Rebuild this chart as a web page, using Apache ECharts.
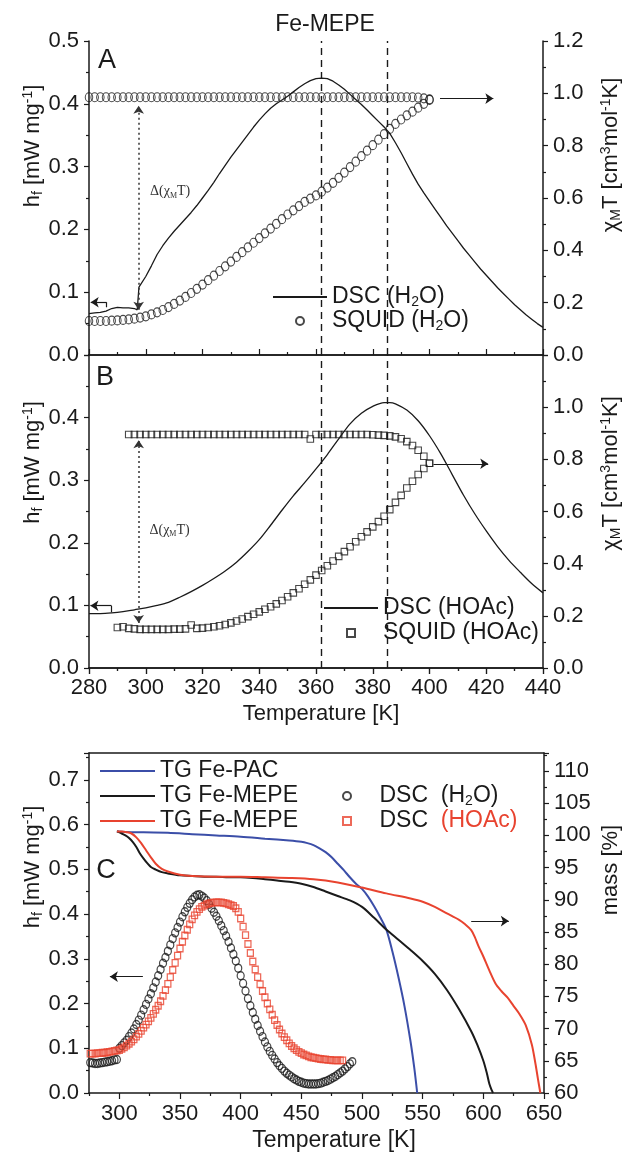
<!DOCTYPE html>
<html>
<head>
<meta charset="utf-8">
<script src="https://cdn.jsdelivr.net/npm/echarts@6/dist/echarts.min.js"></script>
<style>
  html, body { margin: 0; padding: 0; background: #fff; }
  #chart { width: 631px; height: 1153px; }
</style>
</head>
<body>
<div id="chart"></div>
<script>
// ---- data ----
// panel A: DSC (H2O) trace, left axis
const tempDscA = [280, 282, 284, 286, 288, 290, 292, 294, 296, 297, 297.6,
  300, 302, 304, 306, 308, 310, 312, 314, 316, 318, 320, 322, 324, 326, 328, 330, 332, 334, 336, 338,
  340, 342, 344, 346, 348, 350, 352, 354, 356, 358, 360, 362, 364, 366, 368, 370, 372, 374, 376, 378,
  380, 382, 384, 386, 388, 390, 392, 394, 396, 398, 400, 402, 404, 406, 408, 410, 412, 414, 416, 418,
  420, 422, 424, 426, 428, 430, 432, 434, 436, 438, 440];
const dscA = [0.066, 0.067, 0.068, 0.07, 0.074, 0.076, 0.075, 0.075, 0.074, 0.072, 0.108,
  0.125, 0.142, 0.16, 0.174, 0.186, 0.197, 0.207, 0.217, 0.227, 0.238, 0.25, 0.262, 0.275, 0.289, 0.302, 0.315, 0.327, 0.339, 0.351, 0.363,
  0.374, 0.384, 0.393, 0.4, 0.406, 0.412, 0.419, 0.426, 0.432, 0.437, 0.44, 0.441, 0.44, 0.436, 0.43, 0.423, 0.415, 0.407, 0.399, 0.39,
  0.381, 0.372, 0.363, 0.353, 0.338, 0.322, 0.305, 0.288, 0.272, 0.258, 0.245, 0.232, 0.219, 0.206, 0.194, 0.182, 0.17, 0.159, 0.148, 0.137,
  0.127, 0.117, 0.107, 0.098, 0.089, 0.08, 0.072, 0.064, 0.057, 0.05, 0.044];

// SQUID temperatures (A uses all, B uses slices)
const tempSquid = [280, 282, 284, 286, 288, 290, 292, 294, 296, 298, 300, 302, 304, 306, 308, 310, 312, 314, 316, 318,
  320, 322, 324, 326, 328, 330, 332, 334, 336, 338, 340, 342, 344, 346, 348, 350, 352, 354, 356, 358,
  360, 362, 364, 366, 368, 370, 372, 374, 376, 378, 380, 382, 384, 386, 388, 390, 392, 394, 396, 398, 400];
const squidAUp = [0.985, 0.985, 0.985, 0.985, 0.985, 0.985, 0.985, 0.985, 0.985, 0.985,
  0.985, 0.985, 0.985, 0.985, 0.985, 0.985, 0.985, 0.985, 0.985, 0.985,
  0.985, 0.985, 0.985, 0.985, 0.985, 0.985, 0.985, 0.985, 0.985, 0.985,
  0.985, 0.985, 0.985, 0.985, 0.985, 0.985, 0.985, 0.985, 0.985, 0.985,
  0.985, 0.985, 0.985, 0.985, 0.985, 0.985, 0.985, 0.985, 0.985, 0.985,
  0.985, 0.985, 0.985, 0.985, 0.985, 0.985, 0.985, 0.985, 0.984, 0.981, 0.977];
const squidALow = [0.13, 0.13, 0.13, 0.13, 0.131, 0.132, 0.134, 0.136, 0.139, 0.143,
  0.148, 0.155, 0.163, 0.172, 0.183, 0.195, 0.208, 0.222, 0.237, 0.253,
  0.269, 0.286, 0.303, 0.321, 0.339, 0.357, 0.375, 0.393, 0.411, 0.429,
  0.447, 0.465, 0.483, 0.501, 0.519, 0.537, 0.553, 0.569, 0.585, 0.598,
  0.61, 0.624, 0.64, 0.658, 0.677, 0.697, 0.718, 0.739, 0.76, 0.781,
  0.802, 0.823, 0.844, 0.864, 0.883, 0.9, 0.916, 0.93, 0.945, 0.96, 0.975];

// panel B: DSC (HOAc) trace, left axis
const tempDscB = [280, 284, 288, 292, 296, 300, 304, 308, 312, 316, 320, 324, 328, 332, 336, 340, 344, 348, 352, 356,
  360, 364, 368, 372, 376, 380, 384, 386, 388, 392, 396, 400, 404, 408, 412, 416, 420, 424, 428, 432, 436, 440];
const dscB = [0.087, 0.087, 0.088, 0.09, 0.093, 0.096, 0.1, 0.105, 0.113, 0.122, 0.132, 0.143, 0.155, 0.169, 0.186, 0.205, 0.228, 0.252, 0.275, 0.296,
  0.318, 0.341, 0.366, 0.39, 0.407, 0.418, 0.424, 0.424, 0.422, 0.412, 0.395, 0.371, 0.342, 0.309, 0.276, 0.246, 0.219, 0.194, 0.172, 0.153, 0.135, 0.12];
// SQUID (HOAc): upper branch 294..400, lower branch 290..400
const squidBUp = [0.895, 0.895, 0.895, 0.895, 0.895, 0.895, 0.895, 0.895, 0.895, 0.895,
  0.895, 0.895, 0.895, 0.895, 0.895, 0.895, 0.895, 0.895, 0.895, 0.895,
  0.895, 0.895, 0.895, 0.895, 0.895, 0.895, 0.895, 0.895, 0.895, 0.895,
  0.895, 0.895, 0.878, 0.895, 0.895, 0.895, 0.895, 0.895, 0.895, 0.895,
  0.895, 0.895, 0.895,
  0.894, 0.893, 0.892, 0.89, 0.886, 0.879, 0.868, 0.853, 0.835, 0.812, 0.785];
const squidBLow = [0.155, 0.158, 0.152, 0.15, 0.148, 0.148, 0.148, 0.148, 0.148, 0.148,
  0.149, 0.149, 0.15, 0.165, 0.152, 0.153, 0.155, 0.158, 0.162, 0.167,
  0.173, 0.18, 0.188, 0.197, 0.206, 0.215, 0.225, 0.235, 0.246, 0.259,
  0.273, 0.288, 0.304, 0.321, 0.338, 0.356, 0.374, 0.392, 0.41, 0.428,
  0.446, 0.465, 0.484, 0.503, 0.522, 0.541, 0.561, 0.582, 0.607, 0.635,
  0.662, 0.69, 0.716, 0.742, 0.765, 0.785];

// panel C: DSC curves (left axis)
const tempC = [276, 278, 280, 282, 284, 286, 288, 290, 292, 294,
  296, 298, 300, 302, 304, 306, 308, 310, 312, 314,
  316, 318, 320, 322, 324, 326, 328, 330, 332, 334,
  336, 338, 340, 342, 344, 346, 348, 350, 352, 354,
  356, 358, 360, 362, 364, 366, 368, 370, 372, 374,
  376, 378, 380, 382, 384, 386, 388, 390, 392, 394,
  396, 398, 400, 402, 404, 406, 408, 410, 412, 414,
  416, 418, 420, 422, 424, 426, 428, 430, 432, 434,
  436, 438, 440, 442, 444, 446, 448, 450, 452, 454,
  456, 458, 460, 462, 464, 466, 468, 470, 472, 474,
  476, 478, 480, 482, 484, 486, 488, 490, 492];
const dscCH2O = [0.068, 0.067, 0.066, 0.066, 0.067, 0.068, 0.069, 0.07, 0.071, 0.072,
  0.074, 0.075, 0.1, 0.106, 0.112, 0.118, 0.126, 0.134, 0.143, 0.153,
  0.163, 0.174, 0.186, 0.198, 0.21, 0.222, 0.235, 0.248, 0.262, 0.276,
  0.29, 0.303, 0.317, 0.331, 0.345, 0.358, 0.37, 0.382, 0.394, 0.405,
  0.415, 0.424, 0.432, 0.438, 0.442, 0.443, 0.44, 0.436, 0.43, 0.422,
  0.413, 0.404, 0.395, 0.385, 0.374, 0.363, 0.351, 0.338, 0.324, 0.31,
  0.295, 0.279, 0.262, 0.245, 0.228, 0.211, 0.195, 0.18, 0.165, 0.151,
  0.138, 0.126, 0.114, 0.103, 0.093, 0.084, 0.076, 0.068, 0.061, 0.055,
  0.049, 0.044, 0.04, 0.036, 0.032, 0.029, 0.026, 0.024, 0.022, 0.021,
  0.02, 0.02, 0.02, 0.02, 0.021, 0.022, 0.024, 0.026, 0.028, 0.031,
  0.034, 0.037, 0.041, 0.045, 0.049, 0.054, 0.059, 0.065, 0.07];
const dscCHOAc = [0.088, 0.088, 0.088, 0.089, 0.089, 0.09, 0.09, 0.091, 0.092, 0.093,
  0.094, 0.095, 0.096, 0.099, 0.102, 0.106, 0.11, 0.115, 0.12, 0.126,
  0.132, 0.139, 0.146, 0.153, 0.16, 0.168, 0.177, 0.186, 0.195, 0.205,
  0.217, 0.23, 0.244, 0.259, 0.275, 0.291, 0.307, 0.323, 0.338, 0.352,
  0.365, 0.377, 0.388, 0.397, 0.405, 0.411, 0.416, 0.419, 0.422, 0.424,
  0.425, 0.426, 0.426, 0.426, 0.426, 0.425, 0.424, 0.422, 0.42, 0.418,
  0.413, 0.405, 0.39, 0.372, 0.353, 0.333, 0.313, 0.294, 0.276, 0.259,
  0.243, 0.228, 0.214, 0.2, 0.187, 0.175, 0.163, 0.152, 0.142, 0.133,
  0.125, 0.118, 0.111, 0.105, 0.1, 0.096, 0.092, 0.089, 0.086, 0.084,
  0.082, 0.08, 0.079, 0.078, 0.077, 0.076, 0.075, 0.075, 0.074, 0.074,
  0.073, 0.073, 0.073, 0.073, 0.073];

// panel C: TG curves (right axis, mass %)
const tempTgPac = [298, 310, 320, 340, 360, 380, 400, 420, 440,
  450, 455, 460, 465, 470, 475, 480, 485, 490, 495, 500, 505, 510, 515, 520, 525, 530, 535, 540, 543, 545.5];
const tgPac = [100.6, 100.5, 100.5, 100.4, 100.2, 100, 99.8, 99.5, 99.2,
  99, 98.8, 98.5, 98, 97.4, 96.6, 95.6, 94.6, 93.5, 92.5, 91.7, 90.5, 89, 87.3, 85.4, 82, 78, 73.5, 68, 64, 60];
const tempTgMepeH2O = [298, 300, 302, 305, 308, 311, 314, 317, 320, 323, 326, 330, 335, 340,
  350, 360, 370, 380, 390, 400, 410, 420, 430, 440, 450, 460, 470, 480, 490, 500, 510, 520, 530, 540, 550, 560, 570, 580, 590,
  595, 600, 603, 605, 607, 608];
const tgMepeH2O = [100.6, 100.5, 100.3, 100, 99.6, 99, 98.2, 97.2, 96.4, 95.7, 95.1, 94.7, 94.3, 94.1,
  93.8, 93.7, 93.6, 93.6, 93.5, 93.5, 93.4, 93.2, 93, 92.8, 92.5, 92, 91.3, 90.6, 89.9, 88.9, 87.2, 85.4, 83.8, 82.2, 80.5, 78.5, 76, 73, 69.6,
  67.5, 65, 63, 61.4, 60.4, 60];
const tempTgMepeHOAc = [298, 302, 306, 310, 314, 318, 322, 326, 330, 335, 340, 350, 360,
  380, 400, 420, 440, 460, 480, 500, 520, 540, 550, 560, 570, 580, 585, 590, 593, 596,
  600, 605, 610, 615, 620, 625, 630, 635, 640, 643, 645, 647];
const tgMepeHOAc = [100.6, 100.6, 100.5, 100.3, 99.7, 98.8, 97.7, 96.6, 95.6, 94.8, 94.4, 93.9, 93.7,
  93.6, 93.6, 93.5, 93.4, 93.2, 92.7, 91.9, 91, 90.2, 89.7, 88.9, 87.9, 86.9, 86.2, 85.3, 84.2, 82.8,
  81.2, 79, 77, 75.8, 74.8, 73.5, 72.2, 70.5, 67.5, 64.5, 62.2, 60];

// tick positions for panel C temperature axis
const ticksC = [300, 350, 400, 450, 500, 550, 600, 650];
const minorTicksC = [275, 325, 375, 425, 475, 525, 575, 625];

// ---- styling ----
const FONT = 'Liberation Sans, Arial, Helvetica, sans-serif';
const SERIF = 'Liberation Serif, Times New Roman, serif';
const INK = '#1a1a1a';
const BLUE = '#3b4ea8';
const RED = '#e8432f';
const ICON_LINE = 'path://M0,0 L60,0 L60,2 L0,2 Z';
const ICON_SQUARE = 'path://M0,0 L10,0 L10,10 L0,10 Z';

function zip(xs, ys) {
  return ys.map((v, i) => [xs[i], v]);
}

const rich = {
  sub: { fontSize: 14, lineHeight: 12, verticalAlign: 'bottom', fontFamily: FONT, color: INK },
  sup: { fontSize: 14, lineHeight: 12, verticalAlign: 'top', fontFamily: FONT, color: INK },
  red: { fontSize: 23, lineHeight: 24, fontFamily: FONT, color: RED },
};

const hfName = 'h{sub|f} [mW mg{sup|-1}]';
const chiName = '\u03c7{sub|M}T [cm{sup|3}mol{sup|-1}K]';

const legendText = {
  'DSC (H2O)': 'DSC (H{sub|2}O)',
  'SQUID (H2O)': 'SQUID (H{sub|2}O)',
  'DSC (HOAc)': 'DSC (HOAc)',
  'SQUID (HOAc)': 'SQUID (HOAc)',
  'TG Fe-PAC': 'TG Fe-PAC',
  'TG Fe-MEPE (H2O)': 'TG Fe-MEPE',
  'TG Fe-MEPE (HOAc)': 'TG Fe-MEPE',
  'DSC C (H2O)': 'DSC  (H{sub|2}O)',
  'DSC C (HOAc)': 'DSC  {red|(HOAc)}',
};

const lineAxis = { show: true, lineStyle: { color: INK, width: 1.5 } };
const tickStyle = { color: INK, width: 1.2 };
const labelStyle = { color: INK, fontSize: 22, fontFamily: FONT };

function yAxis(grid, pos, min, max, interval, name, gap, shift, extra) {
  return Object.assign({
    type: 'value', gridIndex: grid, position: pos, min: min, max: max, interval: interval,
    axisLine: lineAxis,
    axisTick: { show: true, length: 5, lineStyle: tickStyle },
    minorTick: { show: true, splitNumber: 2, length: 3, lineStyle: tickStyle },
    splitLine: { show: false },
    axisLabel: Object.assign({ margin: 10, formatter: v => v.toFixed(1) }, labelStyle),
    name: name, nameLocation: 'middle', nameGap: gap, nameRotate: 90, nameMoveOverlap: false,
    nameTextStyle: { color: INK, fontSize: 22, fontFamily: FONT, lineHeight: 24, padding: [0, 0, 0, shift], rich: rich },
  }, extra || {});
}

function xAxisBase(grid, min, max) {
  return {
    type: 'value', gridIndex: grid, min: min, max: max,
    axisLine: lineAxis, splitLine: { show: false },
  };
}

const dashStyle = { type: [7, 5], width: 1.4, color: INK };
const dotStyle = { type: [2, 3], width: 1.5, color: '#333' };
const thinStyle = { type: 'solid', width: 1.2, color: INK };

function markLines(data) {
  return { silent: true, symbol: ['none', 'none'], symbolSize: 8, label: { show: false }, data: data };
}

function deltaLabel(x, y) {
  return {
    silent: true, symbol: 'circle', symbolSize: 1, itemStyle: { color: 'rgba(0,0,0,0)' },
    label: {
      show: true, position: 'inside', formatter: '\u0394(\u03c7{m|M}T)', color: '#333',
      fontSize: 14, fontFamily: SERIF, lineHeight: 16,
      rich: { m: { fontSize: 8, lineHeight: 8, verticalAlign: 'bottom', fontFamily: SERIF, color: '#333' } },
    },
    data: [{ coord: [x, y] }],
  };
}

const hollow = (c, w) => ({ color: 'rgba(0,0,0,0)', borderColor: c, borderWidth: w || 1 });

function legendBox(data, left, top, itemGap, extra) {
  return Object.assign({
    data: data, orient: 'vertical', left: left, top: top, padding: 0, align: 'left',
    itemWidth: 54, itemHeight: 8, itemGap: itemGap, selectedMode: false, symbolKeepAspect: true,
    formatter: n => legendText[n],
    textStyle: { fontSize: 23, fontFamily: FONT, color: INK, lineHeight: 24, rich: rich },
  }, extra || {});
}

const option = {
  animation: false,
  backgroundColor: '#fff',
  textStyle: { fontFamily: FONT },
  title: {
    text: 'Fe-MEPE', left: 320, top: 8, textAlign: 'center',
    textStyle: { fontSize: 23, fontWeight: 'normal', fontFamily: FONT, color: INK },
  },
  graphic: [
    { type: 'text', x: 107, y: 61, style: { text: 'A', fontSize: 27, fontFamily: FONT, fill: INK, align: 'center', verticalAlign: 'middle' } },
    { type: 'text', x: 105, y: 378, style: { text: 'B', fontSize: 27, fontFamily: FONT, fill: INK, align: 'center', verticalAlign: 'middle' } },
    { type: 'text', x: 106, y: 871, style: { text: 'C', fontSize: 27, fontFamily: FONT, fill: INK, align: 'center', verticalAlign: 'middle' } },
  ],
  grid: [
    { left: 89, top: 41, width: 458, height: 314 },
    { left: 89, top: 355, width: 458, height: 313 },
    { left: 89, top: 753, width: 456, height: 342 },
  ],
  legend: [
    legendBox([{ name: 'DSC (H2O)', icon: ICON_LINE }, { name: 'SQUID (H2O)', icon: 'circle' }], 273, 285, 0),
    legendBox([{ name: 'DSC (HOAc)', icon: ICON_LINE }, { name: 'SQUID (HOAc)', icon: ICON_SQUARE }], 324, 594, 1,
      { padding: [2, 3, 2, 0], backgroundColor: '#fff' }),
    legendBox([
      { name: 'TG Fe-PAC', icon: ICON_LINE },
      { name: 'TG Fe-MEPE (H2O)', icon: ICON_LINE },
      { name: 'TG Fe-MEPE (HOAc)', icon: ICON_LINE },
    ], 100, 759, 1, { itemWidth: 55 }),
    // only small centred icons here, so the box starts at the icon edge
    legendBox([{ name: 'DSC C (H2O)', icon: 'circle' }, { name: 'DSC C (HOAc)', icon: ICON_SQUARE }], 342, 784, 1,
      { itemWidth: 55 }),
  ],
  xAxis: [
    // 0: A bottom (ticks point up into A)
    Object.assign(xAxisBase(0, 280, 440), {
      position: 'bottom', interval: 20,
      axisTick: { show: true, inside: true, length: 6, lineStyle: tickStyle },
      minorTick: { show: true, splitNumber: 2, length: 3, lineStyle: tickStyle },
      axisLabel: { show: false },
    }),
    // 1: A top frame
    Object.assign(xAxisBase(0, 280, 440), {
      position: 'top', interval: 20, axisTick: { show: false }, axisLabel: { show: false },
    }),
    // 2: B bottom
    Object.assign(xAxisBase(1, 280, 440), {
      position: 'bottom', interval: 20,
      axisTick: { show: true, length: 6, lineStyle: tickStyle },
      minorTick: { show: true, splitNumber: 2, length: 3, lineStyle: tickStyle },
      axisLabel: Object.assign({ margin: 9 }, labelStyle),
      name: 'Temperature [K]', nameLocation: 'middle', nameGap: 35,
      nameTextStyle: { color: INK, fontSize: 22, fontFamily: FONT, padding: [0, 0, 0, 10] },
    }),
    // 3: B top (ticks point down into B)
    Object.assign(xAxisBase(1, 280, 440), {
      position: 'top', interval: 20,
      axisTick: { show: true, inside: true, length: 6, lineStyle: tickStyle },
      minorTick: { show: true, splitNumber: 2, length: 3, lineStyle: tickStyle },
      axisLabel: { show: false },
    }),
    // 4: C bottom
    Object.assign(xAxisBase(2, 275, 650), {
      position: 'bottom',
      axisTick: { show: true, length: 6, lineStyle: tickStyle, customValues: ticksC },
      axisLabel: Object.assign({ margin: 10, customValues: ticksC }, labelStyle),
      name: 'Temperature [K]', nameLocation: 'middle', nameGap: 36,
      nameTextStyle: { color: INK, fontSize: 23, fontFamily: FONT, padding: [0, 0, 0, 35] },
    }),
    // 5: C bottom minor ticks
    Object.assign(xAxisBase(2, 275, 650), {
      position: 'bottom', axisLine: { show: false },
      axisTick: { show: true, length: 3, lineStyle: tickStyle, customValues: minorTicksC },
      axisLabel: { show: false },
    }),
    // 6: C top frame
    Object.assign(xAxisBase(2, 275, 650), {
      position: 'top', axisTick: { show: false }, axisLabel: { show: false },
    }),
  ],
  yAxis: [
    yAxis(0, 'left', 0, 0.5, 0.1, hfName, 44, 104),
    yAxis(0, 'right', 0, 1.2, 0.2, chiName, 56, 86),
    yAxis(1, 'left', 0, 0.5, 0.1, hfName, 44, 98,
      { axisLabel: Object.assign({ margin: 10, showMaxLabel: false, formatter: v => v.toFixed(1) }, labelStyle) }),
    yAxis(1, 'right', 0, 1.2, 0.2, chiName, 56, 76,
      { axisLabel: Object.assign({ margin: 10, showMaxLabel: false, formatter: v => v.toFixed(1) }, labelStyle) }),
    yAxis(2, 'left', 0, 0.76, 0.1, hfName, 44, 112,
      { axisLabel: Object.assign({ margin: 10, showMaxLabel: false, formatter: v => v.toFixed(1) }, labelStyle) }),
    yAxis(2, 'right', 60, 112.8, 5, 'mass [%]', 55, 106,
      { axisLabel: Object.assign({ margin: 10, showMaxLabel: false, formatter: v => String(Math.round(v)) }, labelStyle) }),
  ],
  series: [
    // ---------- panel A ----------
    {
      name: 'DSC (H2O)', type: 'line', xAxisIndex: 0, yAxisIndex: 0,
      data: zip(tempDscA, dscA), symbol: 'none',
      lineStyle: { color: INK, width: 1.3 }, itemStyle: { color: INK },
      markLine: markLines([
        { xAxis: 361.7, lineStyle: dashStyle },
        { xAxis: 385.2, lineStyle: dashStyle },
        [{ coord: [297.5, 0.072], symbol: 'arrow', lineStyle: dotStyle }, { coord: [297.5, 0.397], symbol: 'arrow' }],
        [{ coord: [286.2, 0.084], lineStyle: thinStyle }, { coord: [280.6, 0.084], symbol: 'arrow' }],
        [{ coord: [286.2, 0.084], lineStyle: thinStyle }, { coord: [286.2, 0.076] }],
      ]),
      markPoint: deltaLabel(308.6, 0.26),
    },
    {
      name: 'SQUID (H2O)', type: 'scatter', xAxisIndex: 0, yAxisIndex: 1,
      data: zip(tempSquid, squidAUp), symbol: 'circle', symbolSize: [7.5, 9], itemStyle: hollow(INK, 1.1),
      markLine: markLines([
        [{ coord: [403.7, 0.98], lineStyle: thinStyle }, { coord: [422.5, 0.98], symbol: 'arrow' }],
      ]),
    },
    {
      name: 'SQUID (H2O)', type: 'scatter', xAxisIndex: 0, yAxisIndex: 1,
      data: zip(tempSquid, squidALow), symbol: 'circle', symbolSize: [7.5, 9], itemStyle: hollow(INK, 1.1),
    },
    // ---------- panel B ----------
    {
      name: 'DSC (HOAc)', type: 'line', xAxisIndex: 2, yAxisIndex: 2,
      data: zip(tempDscB, dscB), symbol: 'none', smooth: 0.3,
      lineStyle: { color: INK, width: 1.3 }, itemStyle: { color: INK },
      markLine: markLines([
        { xAxis: 361.7, lineStyle: dashStyle },
        { xAxis: 385.2, lineStyle: dashStyle },
        [{ coord: [297.5, 0.072], symbol: 'arrow', lineStyle: dotStyle }, { coord: [297.5, 0.364], symbol: 'arrow' }],
        [{ coord: [287.9, 0.0995], lineStyle: thinStyle }, { coord: [280.5, 0.0995], symbol: 'arrow' }],
        [{ coord: [287.9, 0.0995], lineStyle: thinStyle }, { coord: [287.9, 0.089] }],
      ]),
      markPoint: deltaLabel(308.4, 0.22),
    },
    {
      name: 'SQUID (HOAc)', type: 'scatter', xAxisIndex: 2, yAxisIndex: 3,
      data: zip(tempSquid.slice(7), squidBUp), symbol: 'rect', symbolSize: [6.5, 6.5], itemStyle: hollow(INK, 1.1),
      markLine: markLines([
        [{ coord: [401.4, 0.783], lineStyle: thinStyle }, { coord: [420.7, 0.783], symbol: 'arrow' }],
      ]),
    },
    {
      name: 'SQUID (HOAc)', type: 'scatter', xAxisIndex: 2, yAxisIndex: 3,
      data: zip(tempSquid.slice(5), squidBLow), symbol: 'rect', symbolSize: [6.5, 6.5], itemStyle: hollow(INK, 1.1),
    },
    // ---------- panel C ----------
    {
      name: 'TG Fe-PAC', type: 'line', xAxisIndex: 4, yAxisIndex: 5,
      data: zip(tempTgPac, tgPac), symbol: 'none', smooth: 0.3,
      lineStyle: { color: BLUE, width: 2 }, itemStyle: { color: BLUE },
    },
    {
      name: 'TG Fe-MEPE (H2O)', type: 'line', xAxisIndex: 4, yAxisIndex: 5,
      data: zip(tempTgMepeH2O, tgMepeH2O), symbol: 'none', smooth: 0.3,
      lineStyle: { color: INK, width: 2 }, itemStyle: { color: INK },
      markLine: markLines([
        [{ coord: [590, 86.7], lineStyle: thinStyle }, { coord: [621, 86.7], symbol: 'arrow' }],
      ]),
    },
    {
      name: 'TG Fe-MEPE (HOAc)', type: 'line', xAxisIndex: 4, yAxisIndex: 5,
      data: zip(tempTgMepeHOAc, tgMepeHOAc), symbol: 'none', smooth: 0.3,
      lineStyle: { color: RED, width: 2 }, itemStyle: { color: RED },
    },
    {
      name: 'DSC C (H2O)', type: 'scatter', xAxisIndex: 4, yAxisIndex: 4,
      data: zip(tempC, dscCH2O), symbol: 'circle', symbolSize: [7, 8], itemStyle: hollow(INK, 1.3),
      markLine: markLines([
        [{ coord: [319.4, 0.26], lineStyle: thinStyle }, { coord: [292.2, 0.26], symbol: 'arrow' }],
      ]),
    },
    {
      name: 'DSC C (HOAc)', type: 'scatter', xAxisIndex: 4, yAxisIndex: 4,
      data: zip(tempC.slice(0, dscCHOAc.length), dscCHOAc), symbol: 'rect', symbolSize: [6, 6.5], itemStyle: hollow(RED, 1.3),
    },
  ],
};

const chart = echarts.init(document.getElementById('chart'), null, { renderer: 'canvas' });
chart.setOption(option);
</script>
</body>
</html>
